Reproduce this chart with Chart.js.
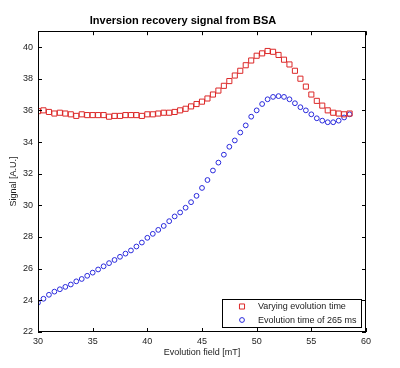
<!DOCTYPE html>
<html>
<head>
<meta charset="utf-8">
<script src="https://cdn.jsdelivr.net/npm/chart.js@4"></script>
<style>
  html, body { margin: 0; padding: 0; background: #fff; }
  #wrap { width: 400px; height: 368px; }
</style>
</head>
<body>
<div id="wrap"><canvas id="chart" width="400" height="368"></canvas></div>
<script>
// evolution field (mT), one point every 0.5 mT
const field = [];
for (let i = 0; i <= 57; i++) field.push(30 + i * 0.5);

const varyingTime = [
  35.95, 36.0, 35.9, 35.8, 35.85, 35.8, 35.75, 35.65, 35.75, 35.7,
  35.7, 35.7, 35.7, 35.6, 35.65, 35.65, 35.7, 35.7, 35.7, 35.65,
  35.75, 35.75, 35.8, 35.85, 35.85, 35.9, 36.0, 36.1, 36.25, 36.4,
  36.55, 36.75, 37.0, 37.25, 37.55, 37.85, 38.2, 38.5, 38.85, 39.15,
  39.45, 39.6, 39.75, 39.7, 39.5, 39.2, 38.9, 38.5, 38.0, 37.5,
  37.0, 36.6, 36.3, 36.0, 35.85, 35.8, 35.75, 35.8
];

const fixedTime = [
  23.85, 24.1, 24.35, 24.55, 24.7, 24.85, 25.0, 25.2, 25.35, 25.55,
  25.75, 25.95, 26.15, 26.35, 26.55, 26.75, 26.95, 27.15, 27.4, 27.65,
  27.95, 28.2, 28.45, 28.7, 29.0, 29.3, 29.55, 29.85, 30.2, 30.6,
  31.1, 31.6, 32.2, 32.7, 33.2, 33.7, 34.1, 34.6, 35.05, 35.6,
  36.0, 36.4, 36.7, 36.85, 36.9, 36.85, 36.7, 36.45, 36.2, 36.0,
  35.75, 35.5, 35.35, 35.25, 35.25, 35.35, 35.55, 35.75
];

const seriesNames = ["Varying evolution time", "Evolution time of 265 ms"];
const xTicks = [30, 35, 40, 45, 50, 55, 60];
const yTicks = [22, 24, 26, 28, 30, 32, 34, 36, 38, 40];

const FONT = "'Liberation Sans', Arial, sans-serif";

// box around plot + inward ticks on all four sides (matlab look)
const boxPlugin = {
  id: "box",
  afterDraw(chart) {
    const { ctx, chartArea: a, scales } = chart;
    ctx.save();
    ctx.strokeStyle = "#000";
    ctx.lineWidth = 1;
    ctx.strokeRect(Math.round(a.left) + 0.5, Math.round(a.top) + 0.5,
      Math.round(a.right - a.left) - 1, Math.round(a.bottom - a.top) - 1);
    ctx.beginPath();
    xTicks.forEach(v => {
      const px = Math.round(scales.x.getPixelForValue(v)) + 0.5;
      ctx.moveTo(px, a.bottom); ctx.lineTo(px, a.bottom - 4);
      ctx.moveTo(px, a.top); ctx.lineTo(px, a.top + 4);
    });
    yTicks.forEach(v => {
      const py = Math.round(scales.y.getPixelForValue(v)) + 0.5;
      ctx.moveTo(a.left, py); ctx.lineTo(a.left + 4, py);
      ctx.moveTo(a.right, py); ctx.lineTo(a.right - 4, py);
    });
    ctx.stroke();

    // legend box, lower right inside plot
    ctx.font = "9px " + FONT;
    const textW = Math.max(...seriesNames.map(s => ctx.measureText(s).width));
    const w = Math.round(textW + 40), h = 28;
    const x0 = Math.round(a.right - 5 - w), y0 = Math.round(a.bottom - 5 - h);
    ctx.fillStyle = "#fff";
    ctx.fillRect(x0, y0, w, h);
    ctx.strokeRect(x0 + 0.5, y0 + 0.5, w, h);
    chart.data.datasets.forEach((ds, i) => {
      const cy = y0 + 7.5 + i * 13.5;
      ctx.lineWidth = 1;
      ctx.strokeStyle = ds.borderColor;
      ctx.fillStyle = "rgba(0,0,0,0)";
      Chart.helpers.drawPoint(ctx, {
        pointStyle: ds.pointStyle, radius: ds.pointRadius, borderWidth: 1
      }, x0 + 20, cy);
      ctx.fillStyle = "#222";
      ctx.textBaseline = "middle";
      ctx.fillText(ds.label, x0 + 36, cy + 0.5);
    });
    ctx.restore();
  }
};

new Chart(document.getElementById("chart"), {
  type: "scatter",
  data: {
    datasets: [
      {
        label: seriesNames[0],
        data: field.map((x, i) => ({ x, y: varyingTime[i] })),
        pointStyle: "rect",
        pointRadius: 3.6,
        borderColor: "rgb(220,40,40)",
        backgroundColor: "rgba(0,0,0,0)",
        borderWidth: 1
      },
      {
        label: seriesNames[1],
        data: field.map((x, i) => ({ x, y: fixedTime[i] })),
        pointStyle: "circle",
        pointRadius: 2.4,
        borderColor: "rgb(40,40,220)",
        backgroundColor: "rgba(0,0,0,0)",
        borderWidth: 1
      }
    ]
  },
  options: {
    responsive: false,
    animation: false,
    layout: { padding: { left: 0, right: 34, top: 0, bottom: 10 } },
    plugins: {
      legend: { display: false },
      tooltip: { enabled: false },
      title: {
        display: true,
        text: "Inversion recovery signal from BSA",
        color: "#000",
        font: { family: FONT, size: 11, weight: "bold" },
        padding: { top: 14, bottom: 4 }
      }
    },
    scales: {
      x: {
        type: "linear",
        min: 30, max: 60,
        grid: { display: false, drawTicks: false },
        border: { display: false },
        afterBuildTicks: s => { s.ticks = xTicks.map(v => ({ value: v })); },
        afterFit: s => { s.height = 26; },
        ticks: { color: "#222", font: { family: FONT, size: 9 }, padding: 4, maxRotation: 0 },
        title: {
          display: true, text: "Evolution field [mT]", color: "#222",
          font: { family: FONT, size: 9 }, padding: { top: 2, bottom: 0 }
        }
      },
      y: {
        type: "linear",
        min: 22, max: 41,
        grid: { display: false, drawTicks: false },
        border: { display: false },
        afterBuildTicks: s => { s.ticks = yTicks.map(v => ({ value: v })); },
        afterFit: s => { s.width = 38; },
        ticks: { color: "#222", font: { family: FONT, size: 9 }, padding: 5 },
        title: {
          display: true, text: "Signal [A.U.]", color: "#222",
          font: { family: FONT, size: 9 }, padding: { top: 8, bottom: 0 }
        }
      }
    }
  },
  plugins: [boxPlugin]
});
</script>
</body>
</html>
